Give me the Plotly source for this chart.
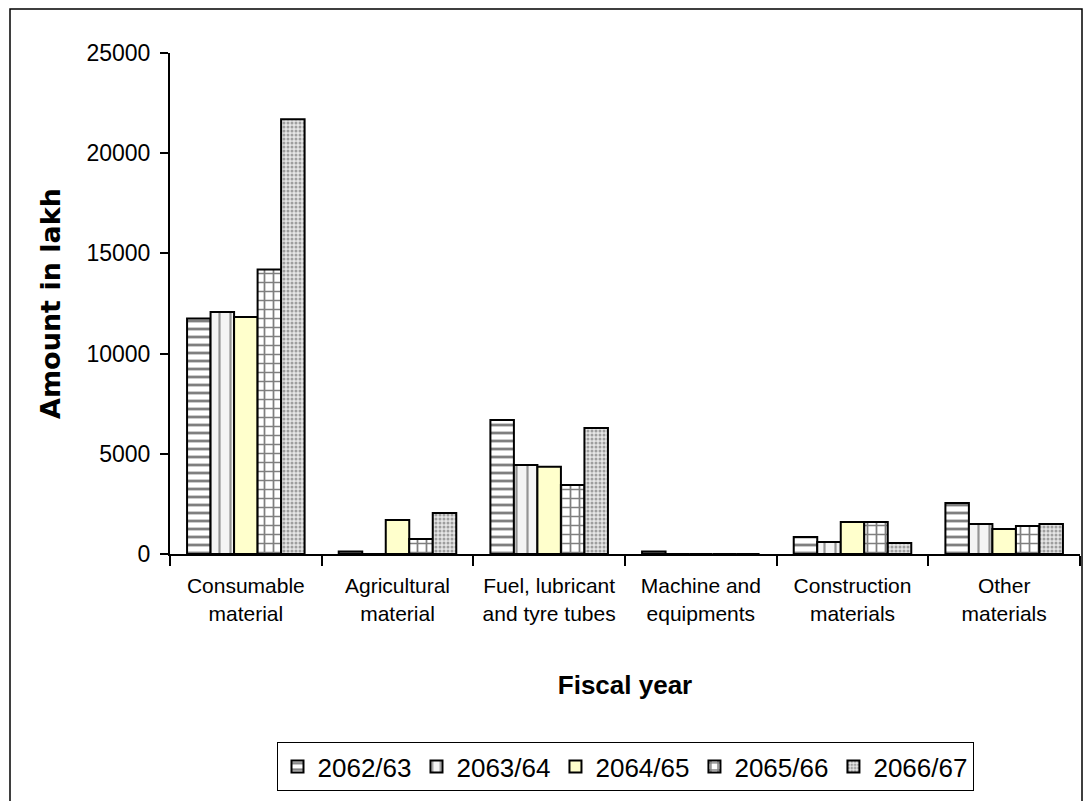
import plotly.graph_objects as go

categories = ["Consumable<br>material", "Agricultural<br>material", "Fuel, lubricant<br>and tyre tubes",
              "Machine and<br>equipments", "Construction<br>materials", "Other<br>materials"]
years = ["2062/63", "2063/64", "2064/65", "2065/66", "2066/67"]
v_2062 = [11750, 120, 6690, 130, 850, 2550]
v_2063 = [12080, 0, 4440, 0, 600, 1500]
v_2064 = [11830, 1700, 4350, 0, 1600, 1250]
v_2065 = [14200, 750, 3440, 0, 1600, 1400]
v_2066 = [21700, 2050, 6290, 0, 550, 1500]
series = [v_2062, v_2063, v_2064, v_2065, v_2066]

styles = [
    dict(color="white", pattern=dict(shape="-", fgcolor="black", bgcolor="white", size=8, solidity=0.35)),
    dict(color="white", pattern=dict(shape="|", fgcolor="#333", bgcolor="#f4f4f4", size=11, solidity=0.2)),
    dict(color="#FFFFCC"),
    dict(color="white", pattern=dict(shape="+", fgcolor="black", bgcolor="white", size=9, solidity=0.35)),
    dict(color="#dddddd", pattern=dict(shape=".", fgcolor="#555", bgcolor="#e6e6e6", size=4, solidity=0.45)),
]

fig = go.Figure()
for name, vals, st in zip(years, series, styles):
    fig.add_trace(go.Bar(
        x=categories, y=vals, name=name,
        marker=dict(line=dict(color="black", width=2), **st),
    ))

W, H = 1092, 801
L, R, T, B = 162, 20, 45, 255
pw, ph = W - L - R, H - T - B

def px_x(p):
    return (p - L) / pw

def px_y(p):
    return (H - B - p) / ph

fig.update_layout(
    width=W, height=H,
    margin=dict(l=L, r=R, t=T, b=B),
    paper_bgcolor="white", plot_bgcolor="white",
    barmode="group", bargap=0.225, bargroupgap=0,
    font=dict(family="Liberation Sans, Arial", color="black"),
    showlegend=True,
    legend=dict(orientation="h", x=0.5, xanchor="center", y=px_y(734), yanchor="top",
                bordercolor="black", borderwidth=1, font=dict(size=26),
                itemwidth=30, traceorder="normal"),
    xaxis=dict(showline=True, linecolor="black", linewidth=2, ticks="outside",
               tickson="boundaries", ticklen=10, tickwidth=1.5, tickcolor="black",
               tickangle=0, tickfont=dict(size=21), ticklabelstandoff=12,
               title=dict(text="<b>Fiscal year</b>", font=dict(size=26), standoff=52)),
    yaxis=dict(range=[0, 25000], dtick=5000, tickformat="d", showline=True, linecolor="black", linewidth=2,
               ticks="outside", ticklen=8, tickwidth=1.5, tickcolor="black",
               showgrid=False, zeroline=False, tickfont=dict(size=23), ticklabelstandoff=5,
               title=dict(text="<b>Amount in lakh</b>", font=dict(size=27, family="DejaVu Sans"), standoff=18)),
    shapes=[dict(type="rect", xref="paper", yref="paper",
                 x0=px_x(2), x1=px_x(1074), y0=px_y(810), y1=px_y(1),
                 line=dict(color="black", width=1.5), fillcolor="rgba(0,0,0,0)", layer="below")],
)

fig.write_html("out.html")
